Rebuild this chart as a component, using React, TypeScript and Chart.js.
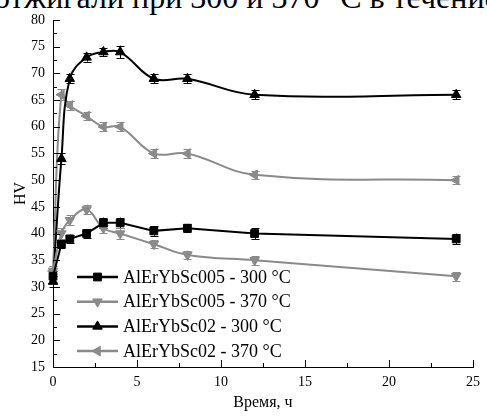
import React, { useEffect, useRef } from "react";
import { Chart, registerables } from "chart.js";
import { drawPoint } from "chart.js/helpers";

Chart.register(...registerables);

const times = [0, 0.5, 1, 2, 3, 4, 6, 8, 12, 24];
const s005_300 = [32, 38, 39, 40, 42, 42, 40.5, 41, 40, 39];
const s005_370 = [33, 40, 42.5, 44.5, 41, 40, 38, 36, 35, 32];
const s02_300 = [31, 54, 69, 73, 74, 74, 69, 69, 66, 66];
const s02_370 = [33, 66, 64, 62, 60, 60, 55, 55, 51, 50];
const e005_300 = [1, 0.8, 0.8, 0.8, 1, 1, 0.9, 0.8, 1, 1];
const e005_370 = [1, 1, 0.9, 0.9, 0.9, 1, 0.8, 0.8, 0.8, 0.8];
const e02_300 = [1, 1, 0.8, 0.8, 0.8, 1.2, 0.8, 0.8, 0.8, 0.8];
const e02_370 = [1, 1, 0.8, 0.8, 0.8, 0.8, 0.8, 0.8, 0.8, 0.8];
const labels = [
  "AlErYbSc005 - 300 °C",
  "AlErYbSc005 - 370 °C",
  "AlErYbSc02 - 300 °C",
  "AlErYbSc02 - 370 °C",
];
const xTicks = [0, 5, 10, 15, 20, 25];
const yTicks = [15, 20, 25, 30, 35, 40, 45, 50, 55, 60, 65, 70, 75, 80];

const BLACK = "#000000";
const GRAY = "#8a8a8a";
const FONT = "'Times New Roman', 'Liberation Serif', 'DejaVu Serif', serif";

const toPts = (ys: number[]) => times.map((t, i) => ({ x: t, y: ys[i] }));

const errorBars = {
  id: "errorBars",
  beforeDatasetsDraw(chart: any) {
    const { ctx } = chart;
    const y = chart.scales.y;
    ctx.save();
    chart.data.datasets.forEach((ds: any, di: number) => {
      const meta = chart.getDatasetMeta(di);
      ctx.strokeStyle = ds.errColor;
      ctx.lineWidth = 1;
      meta.data.forEach((pt: any, i: number) => {
        const v = ds.data[i].y;
        const e = ds.errors[i];
        const x = Math.round(pt.x) + 0.5;
        const y1 = y.getPixelForValue(v + e);
        const y2 = y.getPixelForValue(v - e);
        ctx.beginPath();
        ctx.moveTo(x, y1);
        ctx.lineTo(x, y2);
        ctx.moveTo(x - 4, Math.round(y1) + 0.5);
        ctx.lineTo(x + 4, Math.round(y1) + 0.5);
        ctx.moveTo(x - 4, Math.round(y2) + 0.5);
        ctx.lineTo(x + 4, Math.round(y2) + 0.5);
        ctx.stroke();
      });
    });
    ctx.restore();
  },
};

const axisTicks = {
  id: "axisTicks",
  afterDraw(chart: any) {
    const { ctx, chartArea } = chart;
    const { x, y } = chart.scales;
    ctx.save();
    ctx.strokeStyle = "#000";
    ctx.lineWidth = 1;
    ctx.beginPath();
    for (let v = 0; v <= 25.001; v += 2.5) {
      const px = Math.round(x.getPixelForValue(v)) + 0.5;
      const len = Math.abs(v % 5) < 0.01 ? 7 : 4;
      ctx.moveTo(px, chartArea.bottom);
      ctx.lineTo(px, chartArea.bottom - len);
    }
    for (let v = 15; v <= 80.001; v += 2.5) {
      const py = Math.round(y.getPixelForValue(v)) + 0.5;
      const len = Math.abs(v % 5) < 0.01 ? 7 : 4;
      ctx.moveTo(chartArea.left, py);
      ctx.lineTo(chartArea.left + len, py);
    }
    ctx.stroke();
    ctx.restore();
  },
};

const customLegend = {
  id: "customLegend",
  afterDraw(chart: any) {
    const { ctx, chartArea } = chart;
    ctx.save();
    chart.data.datasets.forEach((ds: any, i: number) => {
      const yy = chartArea.top + 257 + i * 24.7;
      const x0 = chartArea.left + 24;
      const x1 = chartArea.left + 65;
      ctx.strokeStyle = ds.borderColor;
      ctx.lineWidth = 2.5;
      ctx.beginPath();
      ctx.moveTo(x0, yy);
      ctx.lineTo(x1, yy);
      ctx.stroke();
      ctx.fillStyle = ds.pointBackgroundColor;
      ctx.strokeStyle = ds.pointBorderColor;
      ctx.lineWidth = 1;
      drawPoint(
        ctx,
        { pointStyle: ds.pointStyle, rotation: ds.pointRotation || 0, radius: ds.pointRadius, borderWidth: 1 },
        (x0 + x1) / 2,
        yy
      );
      ctx.fillStyle = "#000";
      ctx.font = `18px ${FONT}`;
      ctx.textBaseline = "middle";
      ctx.textAlign = "left";
      ctx.fillText(ds.label, chartArea.left + 70, yy + 1);
    });
    ctx.restore();
  },
};

export default function App() {
  const ref = useRef<HTMLCanvasElement | null>(null);
  useEffect(() => {
    if (!ref.current) return;
    const mk = (label: string, ys: number[], errs: number[], color: string, style: string, rot: number, tension: number) => ({
      label,
      data: toPts(ys),
      errors: errs,
      errColor: color,
      borderColor: color,
      backgroundColor: color,
      pointBackgroundColor: color,
      pointBorderColor: color,
      pointStyle: style,
      pointRotation: rot,
      pointRadius: 5.5,
      pointBorderWidth: 1,
      borderWidth: 2,
      tension,
      clip: false,
    });
    const chart = new Chart(ref.current, {
      type: "line",
      data: {
        datasets: [
          mk(labels[0], s005_300, e005_300, BLACK, "rect", 0, 0),
          mk(labels[1], s005_370, e005_370, GRAY, "triangle", 180, 0.4),
          mk(labels[2], s02_300, e02_300, BLACK, "triangle", 0, 0.4),
          mk(labels[3], s02_370, e02_370, GRAY, "triangle", 270, 0.4),
        ] as any,
      },
      options: {
        animation: false,
        responsive: false,
        devicePixelRatio: 1,
        layout: { padding: { top: 20, right: 7, left: 0, bottom: 0 } },
        plugins: { legend: { display: false }, tooltip: { enabled: false } },
        scales: {
          x: {
            type: "linear",
            min: 0,
            max: 25,
            afterBuildTicks: (s: any) => {
              s.ticks = xTicks.map((v) => ({ value: v }));
            },
            afterFit: (s: any) => {
              s.height = 51;
            },
            ticks: { font: { family: FONT, size: 14 }, color: "#000", padding: 7, maxRotation: 0 },
            grid: { display: false, drawTicks: false },
            border: { display: true, color: "#000", width: 1 },
            title: {
              display: true,
              text: "Время, ч",
              color: "#000",
              font: { family: FONT, size: 16 },
              padding: { top: 0, bottom: 6 },
            },
          },
          y: {
            type: "linear",
            min: 15,
            max: 80,
            afterBuildTicks: (s: any) => {
              s.ticks = yTicks.map((v) => ({ value: v }));
            },
            afterFit: (s: any) => {
              s.width = 53;
            },
            ticks: { font: { family: FONT, size: 14 }, color: "#000", padding: 8 },
            grid: { display: false, drawTicks: false },
            border: { display: true, color: "#000", width: 1 },
            title: {
              display: true,
              text: "HV",
              color: "#000",
              font: { family: FONT, size: 16 },
              padding: { top: 11, bottom: 0 },
            },
          },
        },
      } as any,
      plugins: [errorBars, axisTicks, customLegend],
    });
    return () => chart.destroy();
  }, []);

  return (
    <div
      style={{
        position: "fixed",
        left: 0,
        top: 0,
        width: 487,
        height: 418,
        overflow: "hidden",
        background: "#fff",
      }}
    >
      <div
        style={{
          position: "absolute",
          top: -19,
          right: 363,
          font: `32px/32px ${FONT}`,
          whiteSpace: "nowrap",
          color: "#000",
        }}
      >
        отжигали
      </div>
      <div
        style={{
          position: "absolute",
          top: -19,
          left: 132,
          font: `32px/32px ${FONT}`,
          whiteSpace: "nowrap",
          color: "#000",
        }}
      >
        при 300 и 370 °C в течение
      </div>
      <canvas ref={ref} width={487} height={418} style={{ position: "absolute", left: 0, top: 0 }} />
    </div>
  );
}
